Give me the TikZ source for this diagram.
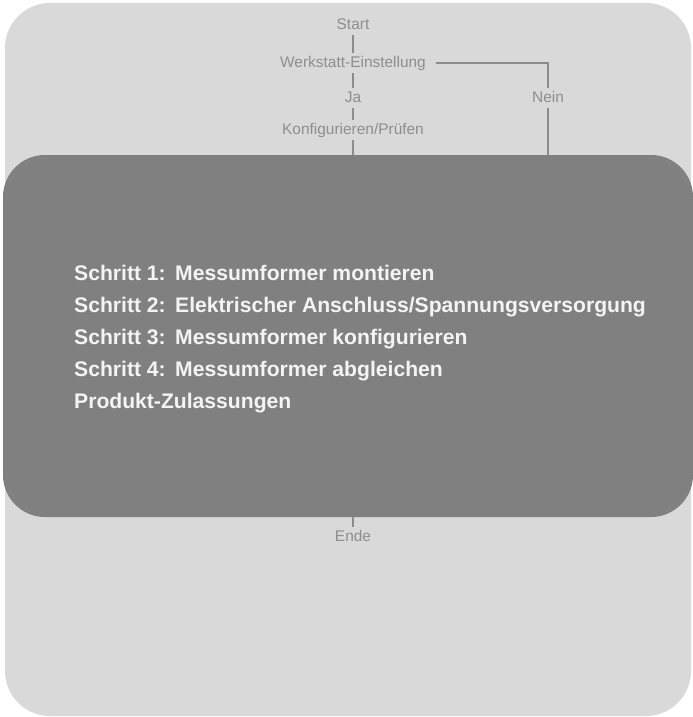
\documentclass[tikz,border=0pt]{standalone}
\usepackage{fontspec}
\setmainfont{Liberation Sans}
\definecolor{bgpanel}{HTML}{D9D9D9}
\definecolor{darkpanel}{HTML}{808080}
\definecolor{flowgray}{HTML}{8E8E8E}
\definecolor{linegray}{HTML}{8C8C8C}
\definecolor{boldwhite}{HTML}{F4F4F4}
\tikzset{
  flowtext/.style={text=flowgray, font=\fontsize{15.5}{18}\selectfont,
    inner xsep=4bp, inner ysep=3bp, text height=11.5bp, text depth=3bp},
  flowline/.style={draw=linegray, line width=2.8bp},
  steptext/.style={anchor=base west, inner sep=0pt, text=boldwhite,
    font=\bfseries\fontsize{21.2}{25}\selectfont},
}
\begin{document}
\begin{tikzpicture}[x=1bp,y=-1bp]
\useasboundingbox (0,0) rectangle (693,717);
% panels
\fill[bgpanel, rounded corners=45bp] (5,3) rectangle (691,716);
\fill[darkpanel, rounded corners=42bp] (3,155) rectangle (693,517);
\coordinate (boxtopL) at (353,155);
\coordinate (boxtopR) at (548,155);
\coordinate (boxbot) at (353,517);
\coordinate (corner) at (548,63);
% flow labels
\node[flowtext] (start) at (353,25) {Start};
\node[flowtext] (werk) at (353,63) {Werkstatt-Einstellung};
\node[flowtext] (ja) at (353,98) {Ja};
\node[flowtext] (konf) at (353,130) {Konfigurieren/Prüfen};
\node[flowtext] (nein) at (548,98) {Nein};
\node[flowtext] (ende) at (353,537) {Ende};
% connectors
\draw[flowline] (start.south) -- (werk.north);
\draw[flowline] (werk.south) -- (ja.north);
\draw[flowline] (ja.south) -- (konf.north);
\draw[flowline] (konf.south) -- (boxtopL);
\draw[flowline] ([xshift=6bp]werk.east) -- (corner) -- (nein.north);
\draw[flowline] (nein.south) -- (boxtopR);
\draw[flowline] (boxbot) -- (ende.north);
% steps
\node[steptext] (s1) at (74,280) {Schritt 1:\hspace{0.45em}Messumformer montieren};
\node[steptext] (s2) at (74,312) {Schritt 2:\hspace{0.45em}Elektrischer Anschluss/Spannungsversorgung};
\node[steptext] (s3) at (74,344) {Schritt 3:\hspace{0.45em}Messumformer konfigurieren};
\node[steptext] (s4) at (74,376) {Schritt 4:\hspace{0.45em}Messumformer abgleichen};
\node[steptext] (s5) at (74,408) {Produkt-Zulassungen};
\end{tikzpicture}
\end{document}
